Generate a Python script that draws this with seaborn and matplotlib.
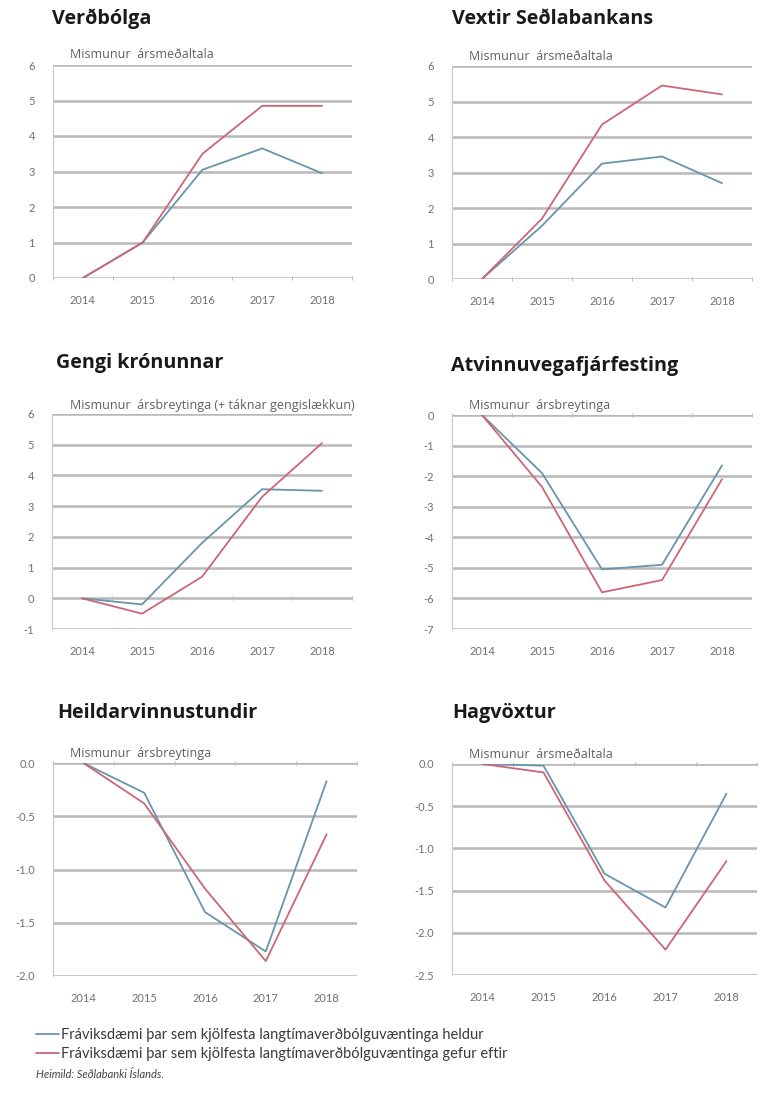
import numpy as np
import pandas as pd
import matplotlib
matplotlib.use("Agg")
import matplotlib.pyplot as plt
import seaborn as sns

years = [2014, 2015, 2016, 2017, 2018]

verdbolga_heldur = [0.0, 1.0, 3.05, 3.65, 2.95]
verdbolga_gefur = [0.0, 1.0, 3.5, 4.85, 4.85]
vextir_heldur = [0.0, 1.5, 3.25, 3.45, 2.7]
vextir_gefur = [0.0, 1.7, 4.35, 5.45, 5.2]
gengi_heldur = [0.0, -0.2, 1.8, 3.55, 3.5]
gengi_gefur = [0.0, -0.5, 0.7, 3.3, 5.05]
atv_heldur = [0.0, -1.9, -5.05, -4.9, -1.65]
atv_gefur = [0.0, -2.35, -5.8, -5.4, -2.1]
heild_heldur = [0.0, -0.28, -1.4, -1.77, -0.17]
heild_gefur = [0.0, -0.38, -1.18, -1.86, -0.67]
hag_heldur = [0.0, -0.02, -1.3, -1.7, -0.35]
hag_gefur = [0.0, -0.1, -1.38, -2.2, -1.15]

titles = ["Verðbólga", "Vextir Seðlabankans", "Gengi krónunnar",
          "Atvinnuvegafjárfesting", "Heildarvinnustundir", "Hagvöxtur"]
subtitles = ["Mismunur  ársmeðaltala", "Mismunur  ársmeðaltala",
             "Mismunur  ársbreytinga (+ táknar gengislækkun)",
             "Mismunur  ársbreytinga", "Mismunur  ársbreytinga",
             "Mismunur  ársmeðaltala"]
series_names = ["Fráviksdæmi þar sem kjölfesta langtímaverðbólguvæntinga heldur",
                "Fráviksdæmi þar sem kjölfesta langtímaverðbólguvæntinga gefur eftir"]
source_text = "Heimild: Seðlabanki Íslands."

panel_data = [
    (verdbolga_heldur, verdbolga_gefur),
    (vextir_heldur, vextir_gefur),
    (gengi_heldur, gengi_gefur),
    (atv_heldur, atv_gefur),
    (heild_heldur, heild_gefur),
    (hag_heldur, hag_gefur),
]
y_ranges = [(0, 6, 1), (0, 6, 1), (-1, 6, 1), (-7, 0, 1), (-2.0, 0.0, 0.5), (-2.5, 0.0, 0.5)]
y_fmt = ["%d", "%d", "%d", "%d", "%.1f", "%.1f"]

BLUE = "#6895ad"
RED = "#cc6676"
GRID = "#b8b8b8"
TICKC = "#707070"

sns.set_style("white")
plt.rcParams["font.family"] = ["Lato", "DejaVu Sans"]

W, H = 769, 1101
fig = plt.figure(figsize=(W / 100, H / 100), dpi=100)


def px(x, y):
    return x / W, 1 - y / H


# (left, top, right, bottom) in pixels
boxes = [(53, 65, 352, 278), (452, 66, 752, 279),
         (52, 414, 352, 629), (452, 415, 752, 629),
         (53, 763, 357, 976), (452, 764, 757, 975)]
title_pos = [(52, 19), (452, 19), (56, 363), (451, 366), (57, 713), (452, 713)]
sub_pos = [(70, 55), (469, 57), (70, 405), (469, 405), (70, 754), (469, 755)]

for i, (box, (heldur, gefur)) in enumerate(zip(boxes, panel_data)):
    l, t, r, b = box
    x0, y1 = px(l, t)
    x1, y0 = px(r, b)
    ax = fig.add_axes([x0, y0, x1 - x0, y1 - y0])

    df = pd.DataFrame({
        "year": years * 2,
        "value": list(heldur) + list(gefur),
        "series": [series_names[0]] * len(years) + [series_names[1]] * len(years),
    })
    sns.lineplot(data=df, x="year", y="value", hue="series",
                 palette=[BLUE, RED], linewidth=1.3, ax=ax, legend=False)

    lo, hi, step = y_ranges[i]
    yt = np.arange(lo, hi + step / 2, step)
    ax.set_ylim(lo, hi)
    ax.set_yticks(yt)
    ax.set_yticklabels([y_fmt[i] % v for v in yt])
    ax.set_xlim(2013.5, 2018.5)
    ax.set_xticks(years)
    ax.set_xticklabels([str(y) for y in years])
    ax.set_xlabel("")
    ax.set_ylabel("")
    for v in yt:
        ax.axhline(v, color=GRID, linewidth=1.8, zorder=0)
    for s in ["top", "right", "bottom"]:
        ax.spines[s].set_visible(False)
    ax.spines["left"].set_color("#cccccc")
    ax.spines["left"].set_linewidth(0.9)
    ax.tick_params(axis="both", length=0, labelsize=8, labelcolor=TICKC)
    ax.tick_params(axis="y", pad=13)
    ax.tick_params(axis="x", pad=12)

    # category boundary ticks on the zero line
    zero_frac = (0 - lo) / (hi - lo)
    sec = ax.secondary_xaxis(zero_frac)
    sec.set_xticks([2013.5, 2014.5, 2015.5, 2016.5, 2017.5, 2018.5])
    sec.set_xticklabels([])
    sec.tick_params(length=3, direction="inout", color="#bdbdbd", width=0.8)
    sec.spines["bottom"].set_visible(False)
    sec.spines["top"].set_visible(False)

    tx, ty = px(*title_pos[i])
    fig.text(tx, ty, titles[i], fontsize=14.2, fontweight="bold",
             family=["Open Sans", "DejaVu Sans"], color="#1a1a1a", va="center", ha="left")
    sx, sy = px(*sub_pos[i])
    fig.text(sx, sy, subtitles[i], fontsize=9, family=["Open Sans", "DejaVu Sans"],
             color="#606060", va="center", ha="left")

# legend
handles = [plt.Line2D([], [], color=c, linewidth=1.3) for c in [BLUE, RED]]
lx, ly = px(30, 1022)
fig.legend(handles, series_names, loc="upper left", bbox_to_anchor=(lx, ly),
           frameon=False, fontsize=10.5, handlelength=1.6, handletextpad=0.15,
           labelspacing=0.35, labelcolor="#3a3a3a", borderaxespad=0)

hx, hy = px(36, 1074)
fig.text(hx, hy, source_text, fontsize=8, style="italic", color="#444444",
         va="center", ha="left")

fig.savefig("out.png", dpi=100, facecolor="white")
plt.close(fig)
